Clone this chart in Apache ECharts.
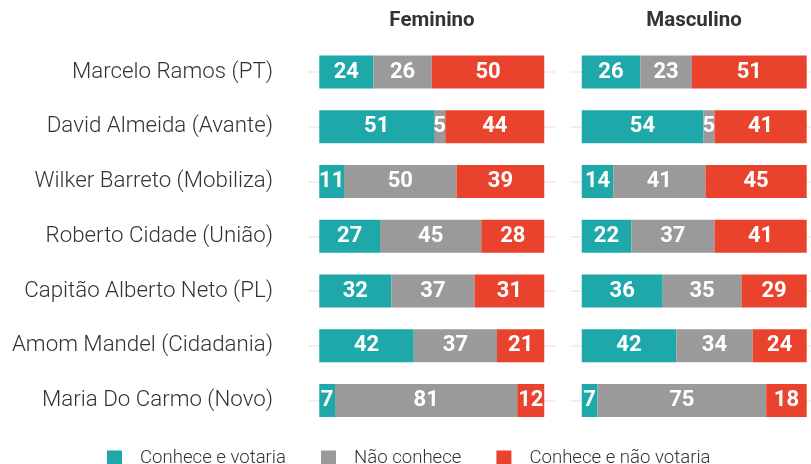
<!DOCTYPE html>
<html>
<head>
<meta charset="utf-8">
<script src="https://cdn.jsdelivr.net/npm/echarts@6/dist/echarts.min.js"></script>
<style>
  html, body { margin: 0; padding: 0; background: #fff; }
  #main { width: 811px; height: 464px; }
</style>
</head>
<body>
<div id="main"></div>
<script>
// candidatos
var categorias = ['Marcelo Ramos (PT)', 'David Almeida (Avante)', 'Wilker Barreto (Mobiliza)', 'Roberto Cidade (União)', 'Capitão Alberto Neto (PL)', 'Amom Mandel (Cidadania)', 'Maria Do Carmo (Novo)'];
var nomesSerie = ['Conhece e votaria', 'Não conhece', 'Conhece e não votaria'];
var cores = ['#1fa8a9', '#9a9a9a', '#e9432d'];

// Feminino
var femVotaria = [24, 51, 11, 27, 32, 42, 7];
var femNaoConhece = [26, 5, 50, 45, 37, 37, 81];
var femNaoVotaria = [50, 44, 39, 28, 31, 21, 12];

// Masculino
var mascVotaria = [26, 54, 14, 22, 36, 42, 7];
var mascNaoConhece = [23, 5, 41, 37, 35, 34, 75];
var mascNaoVotaria = [51, 41, 45, 41, 29, 24, 18];

var fonte = 'Roboto';

function serie(nome, dados, idx) {
    return {
        name: nome,
        type: 'bar',
        stack: 'g' + idx,
        xAxisIndex: idx,
        yAxisIndex: idx,
        barWidth: 33,
        clip: false,
        data: dados,
        label: {
            show: true,
            position: 'inside',
            color: '#fff',
            fontFamily: fonte,
            fontWeight: 'bold',
            fontSize: 22
        }
    };
}

var chartDom = document.getElementById('main');
var myChart = echarts.init(chartDom);
var option;

option = {
    color: cores,
    animation: false,
    title: [
        { text: 'Feminino', left: 427, top: 5, textAlign: 'center',
          textStyle: { fontFamily: fonte, fontSize: 20.5, fontWeight: 'bold', color: '#333' } },
        { text: 'Masculino', left: 689, top: 5, textAlign: 'center',
          textStyle: { fontFamily: fonte, fontSize: 20.5, fontWeight: 'bold', color: '#333' } }
    ],
    legend: {
        data: nomesSerie,
        left: 107,
        top: 449,
        padding: 0,
        icon: 'rect',
        itemWidth: 15,
        itemHeight: 16,
        itemGap: 35,
        textStyle: { fontFamily: fonte, fontSize: 18.6, color: '#333', fontWeight: 300, padding: [0, 0, 0, 13] }
    },
    grid: [
        { left: 308, width: 247.5, top: 72, height: 328.5 },
        { left: 570.5, right: 0, top: 72, height: 328.5 }
    ],
    xAxis: [
        { type: 'value', gridIndex: 0, min: -5, max: 105, show: false },
        { type: 'value', gridIndex: 1, min: -5, max: 101.9, show: false }
    ],
    yAxis: [0, 1].map(function (i) {
        return {
            type: 'category', gridIndex: i, data: categorias,
            inverse: true, boundaryGap: false,
            axisLine: { show: false },
            axisTick: { show: false },
            splitLine: { show: true, lineStyle: { color: '#ebebeb', width: 1.5 } },
            axisLabel: {
                show: i === 0,
                margin: 35,
                fontFamily: fonte,
                fontSize: 22.3,
                fontWeight: 300,
                color: '#333'
            }
        };
    }),
    series: [
        serie(nomesSerie[0], femVotaria, 0),
        serie(nomesSerie[1], femNaoConhece, 0),
        serie(nomesSerie[2], femNaoVotaria, 0),
        serie(nomesSerie[0], mascVotaria, 1),
        serie(nomesSerie[1], mascNaoConhece, 1),
        serie(nomesSerie[2], mascNaoVotaria, 1)
    ]
};

option && myChart.setOption(option);
</script>
</body>
</html>
